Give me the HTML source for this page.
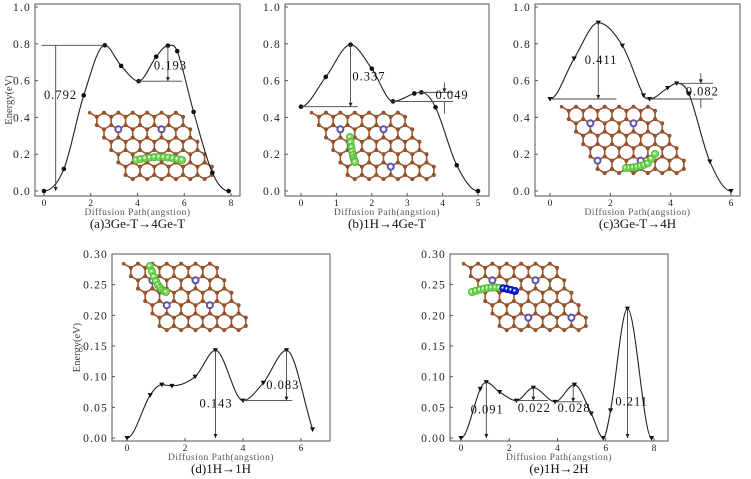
<!DOCTYPE html>
<html><head><meta charset="utf-8"><style>
body{margin:0;background:#fff;}
svg{display:block;font-family:"Liberation Serif","Noto Serif CJK SC",serif;}
</style></head><body>
<svg id="fig" width="751" height="479" viewBox="0 0 751 479"></svg>
<script>
// ---- data ----
const aX=[0,0.85,1.7,2.6,3.3,4.05,4.8,5.3,5.7,6.4,7.2,7.9];
const aY=[0,0.12,0.52,0.792,0.68,0.597,0.73,0.79,0.76,0.43,0.1,0];
const bX=[0,0.7,1.4,2.0,2.6,3.2,3.4,3.8,4.4,5];
const bY=[0.458,0.62,0.795,0.665,0.487,0.53,0.536,0.455,0.14,0];
const cX=[0,0.8,1.6,2.4,3.1,3.3,3.9,4.2,4.6,5.3,6];
const cY=[0.5,0.72,0.915,0.79,0.52,0.5,0.56,0.585,0.53,0.16,0];
const dX=[0,0.8,1.2,1.55,2.35,3.05,4.0,4.7,5.5,6.4];
const dY=[0,0.07,0.087,0.085,0.1,0.143,0.061,0.09,0.143,0.014];
const eX=[0,0.8,1.05,1.6,2.3,3.0,3.9,4.7,5.4,5.9,6.2,6.9,7.9];
const eY=[0,0.08,0.091,0.075,0.061,0.082,0.059,0.087,0.04,0,0.045,0.211,0];
const yTicksTop=["0.0","0.2","0.4","0.6","0.8","1.0"];
const yTicksBot=["0.00","0.05","0.10","0.15","0.20","0.25","0.30"];

const NS="http://www.w3.org/2000/svg";
const svg=document.getElementById('fig');
function el(tag,attrs,parent){const e=document.createElementNS(NS,tag);for(const k in attrs)e.setAttribute(k,attrs[k]);(parent||svg).appendChild(e);return e;}

const panels=[
 {id:'a',X:aX,Y:aY,xmax:8,xstep:2,ymax:1,ticks:yTicksTop,px0:44,px1:231,py0:191,py1:7,fl:35,fr:240,ft:4,fb:196,cap:"(a)3Ge-T\u21924Ge-T",mk:'dot',ylab:12},
 {id:'b',X:bX,Y:bY,xmax:5,xstep:1,ymax:1,ticks:yTicksTop,px0:301,px1:478,py0:191,py1:7,fl:285,fr:489,ft:4,fb:196,cap:"(b)1H\u21924Ge-T",mk:'dot'},
 {id:'c',X:cX,Y:cY,xmax:6,xstep:2,ymax:1,ticks:yTicksTop,px0:550,px1:731,py0:191,py1:7,fl:535,fr:740,ft:4,fb:196,cap:"(c)3Ge-T\u21924H",mk:'tri'},
 {id:'d',X:dX,Y:dY,xmax:6,xstep:2,ymax:0.3,ticks:yTicksBot,px0:127,px1:301,py0:438,py1:254,fl:112,fr:330,ft:254,fb:441,cap:"(d)1H\u21921H",mk:'tri',ylab:80,endSlope:true},
 {id:'e',X:eX,Y:eY,xmax:8,xstep:2,ymax:0.3,ticks:yTicksBot,px0:461,px1:654,py0:438,py1:254,fl:450,fr:668,ft:254,fb:441,cap:"(e)1H\u21922H",mk:'tri'}
];

function smoothPath(pts,endSlope){
  const n=pts.length,m=[];
  for(let i=1;i<n-1;i++){
    const s0=pts[i][1]-pts[i-1][1],s1=pts[i+1][1]-pts[i][1];
    if(s0*s1<=0)m[i]=0;
    else m[i]=(pts[i+1][1]-pts[i-1][1])/(pts[i+1][0]-pts[i-1][0]);
  }
  m[0]=0;
  m[n-1]=endSlope?(pts[n-1][1]-pts[n-2][1])/(pts[n-1][0]-pts[n-2][0]):0;
  let d=`M${pts[0][0]},${pts[0][1]}`;
  for(let i=0;i<n-1;i++){const h=(pts[i+1][0]-pts[i][0])/3;
    d+=` C${pts[i][0]+h},${pts[i][1]+m[i]*h} ${pts[i+1][0]-h},${pts[i+1][1]-m[i+1]*h} ${pts[i+1][0]},${pts[i+1][1]}`;}
  return d;
}

function lattice(g,x0,y0,r,purple,chain,chainColor2){
  const w=Math.sqrt(3)*r, rows=5, cols=6;
  const edges=new Map(), verts=new Map();
  const key=(x,y)=>Math.round(x*2)+','+Math.round(y*2);
  for(let i=0;i<rows;i++)for(let j=0;j<cols;j++){
    const cx=x0+j*w+i*w/2, cy=y0+i*1.5*r;
    const vs=[];
    for(let k=0;k<6;k++){const a=Math.PI/180*(60*k-90);vs.push([cx+r*Math.cos(a),cy+r*Math.sin(a)]);}
    for(let k=0;k<6;k++){const p=vs[k],q=vs[(k+1)%6];const kk=[key(...p),key(...q)].sort().join('|');edges.set(kk,[p,q]);verts.set(key(...p),p);}
  }
  edges.forEach(([p,q])=>{el('line',{x1:p[0],y1:p[1],x2:q[0],y2:q[1],stroke:'#9a5a2e','stroke-width':1.6},g);});
  el('line',{x1:x0-w/2,y1:y0-r/2,x2:x0-w,y2:y0-r,stroke:'#9a5a2e','stroke-width':1.6},g);
  verts.forEach(p=>{el('circle',{cx:p[0],cy:p[1],r:1.8,fill:'#a0522d',stroke:'#6b3a1a','stroke-width':0.4},g);});
  el('circle',{cx:x0-w,cy:y0-r,r:1.8,fill:'#a0522d'},g);
  purple.forEach(([i,j])=>{const cx=x0+j*w+i*w/2, cy=y0+i*1.5*r+r;el('circle',{cx,cy,r:3,fill:'#fff',stroke:'#5a52a8','stroke-width':2},g);});
  chain.forEach((p,n)=>{const blue=chainColor2&&n>=chainColor2;
    el('circle',{cx:p[0],cy:p[1],r:3.6,fill:blue?'#1020d0':'#7ad85a',stroke:blue?'#0010a0':'#4caf38','stroke-width':0.8},g);
    el('circle',{cx:p[0]-0.6,cy:p[1]-0.6,r:1.2,fill:'#eaffdf'},g);});
}
function chainPts(x1,y1,x2,y2,n,bend){const a=[];for(let k=0;k<n;k++){const t=k/(n-1);a.push([x1+(x2-x1)*t,y1+(y2-y1)*t-Math.sin(Math.PI*t)*bend]);}return a;}

panels.forEach(P=>{
  const g=el('g',{});
  
  
  const sx=v=>P.px0+(P.px1-P.px0)*v/P.xmax;
  const sy=v=>P.py0-(P.py0-P.py1)*v/P.ymax;
  const fr=el('rect',{x:P.fl,y:P.ft,width:P.fr-P.fl,height:P.fb-P.ft,fill:'none',stroke:'#555','stroke-width':1},g);
  
  
  P.ticks.forEach((t,i)=>{const v=P.ymax*i/(P.ticks.length-1),y=sy(v);
    el('line',{x1:P.fl,y1:y,x2:P.fl+3,y2:y,stroke:'#555'},g);
    const tx=el('text',{x:P.fl-4,y:y+4,'font-size':11.5,'text-anchor':'end','letter-spacing':'1.2',fill:'#222'},g);
    tx.textContent=t;
    
    
  });
  for(let v=0;v<=P.xmax;v+=P.xstep){const x=sx(v);
    el('line',{x1:x,y1:P.fb,x2:x,y2:P.fb-3,stroke:'#555'},g);
    const tx=el('text',{x:x,y:P.fb+10,'font-size':9.5,'text-anchor':'middle',fill:'#222'},g);
    tx.textContent=v;
    
    
  }
  const cx=(P.fl+P.fr)/2;
  const xt=el('text',{x:cx,y:P.fb+19,'font-size':9.5,'text-anchor':'middle',fill:'#555','letter-spacing':'0.5'},g);
  xt.textContent='Diffusion Path(angstion)';
  
  
  const cp=el('text',{x:cx,y:P.fb+32,'font-size':13,'text-anchor':'middle',fill:'#111'},g);
  cp.textContent=P.cap;
  
  
  if(P.ylab){const yl=el('text',{x:0,y:0,'font-size':10.5,'text-anchor':'middle',fill:'#444',transform:`translate(${P.ylab},${(P.ft+P.fb)/2}) rotate(-90)`},g);
    yl.textContent='Energy(eV)';
    
    }
  const L=el('g',{},g);
  
  
  if(P.id==='a')lattice(L,104,121,8.3,[[0,1],[0,4]],chainPts(136,160,182,160,11,3));
  if(P.id==='b')lattice(L,326,121,8.3,[[0,1],[0,4],[3,3]],chainPts(350,137,355,162,8,-4));
  if(P.id==='c')lattice(L,576,115,8.3,[[0,1],[0,4],[3,0],[3,3]],chainPts(626,168,655,160,9,-2).map((p,k)=>[p[0],p[1]+(k>6?-(k-6)*3:0)]));
  if(P.id==='d')lattice(L,138,272,8.3,[[0,1],[0,4],[2,1],[2,4]],chainPts(150,266,166,292,9,-6));
  if(P.id==='e')lattice(L,478,272,8.3,[[0,1],[0,4],[3,2],[3,5]],chainPts(472,292,515,291,12,4),8);
  const pts=P.X.map((x,i)=>[sx(x),sy(P.Y[i])]);
  const path=el('path',{d:smoothPath(pts,P.endSlope),fill:'none',stroke:'#222','stroke-width':1.1},g);
  
  
  P.X.forEach((x,i)=>{
    let m;
    const X=sx(x),Y=sy(P.Y[i]);
    if(P.mk==='dot')m=el('circle',{cx:X,cy:Y,r:2.3,fill:'#111'},g);
    else m=el('polygon',{points:`${X-2.6},${Y-2} ${X+2.6},${Y-2} ${X},${Y+2.6}`,fill:'#111'},g);
    
    
  });
  P.g=g;P.sx=sx;P.sy=sy;
});

function ann(P,x1,y1,x2,y2){el('line',{x1:P.sx(x1),y1:P.sy(y1),x2:P.sx(x2),y2:P.sy(y2),stroke:'#444','stroke-width':0.9},P.g);}
function arrow(P,x,yTop,yBot){ann(P,x,yTop,x,yBot);const X=P.sx(x),Y=P.sy(yBot);el('polygon',{points:`${X-2},${Y-4} ${X+2},${Y-4} ${X},${Y}`,fill:'#222'},P.g);}
function lab(P,x,y,t){const tx=el('text',{x:P.sx(x),y:P.sy(y),'font-size':12.5,fill:'#111','letter-spacing':'1'},P.g);tx.textContent=t;
  
  }
const [A,B,C,D,E]=panels;
ann(A,-0.1,0.792,2.6,0.792);arrow(A,0.5,0.792,0);lab(A,0.0,0.5,'0.792');
ann(A,4.0,0.597,5.9,0.597);arrow(A,5.3,0.79,0.597);lab(A,4.7,0.66,'0.193');
ann(B,0,0.458,1.6,0.458);arrow(B,1.4,0.795,0.458);lab(B,1.45,0.6,'0.337');
ann(B,2.6,0.487,4.3,0.487);ann(B,3.35,0.536,4.3,0.536);arrow(B,4.05,0.59,0.536);ann(B,4.05,0.487,4.05,0.42);lab(B,3.8,0.5,'0.049');
ann(C,0,0.5,2.2,0.5);arrow(C,1.6,0.915,0.5);lab(C,1.15,0.69,'0.411');
ann(C,3.3,0.5,5.4,0.5);ann(C,4.2,0.585,5.4,0.585);arrow(C,5.0,0.64,0.585);ann(C,5.0,0.5,5.0,0.45);lab(C,4.5,0.52,'0.082');
arrow(D,3.05,0.143,0);lab(D,2.5,0.05,'0.143');
ann(D,4.0,0.061,5.7,0.061);arrow(D,5.5,0.143,0.061);lab(D,4.8,0.08,'0.083');
arrow(E,1.05,0.091,0);lab(E,0.4,0.04,'0.091');
ann(E,2.3,0.061,3.6,0.061);arrow(E,3.0,0.082,0.061);lab(E,2.35,0.042,'0.022');
ann(E,3.9,0.059,5.0,0.059);arrow(E,4.65,0.087,0.059);lab(E,4.0,0.042,'0.028');
arrow(E,6.9,0.211,0);lab(E,6.4,0.053,'0.211');
</script>
</body></html>
